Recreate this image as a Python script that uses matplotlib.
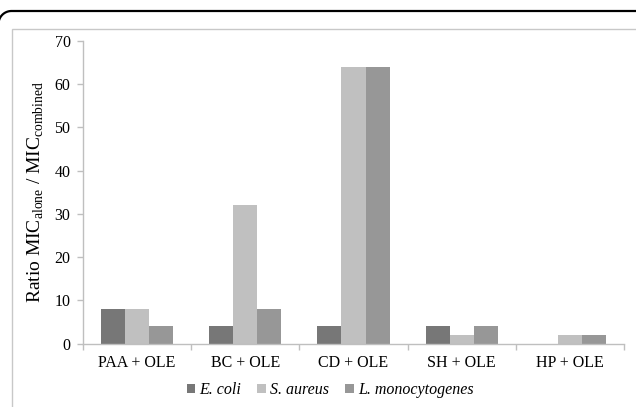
import matplotlib

matplotlib.use("Agg")
import matplotlib.pyplot as plt
import numpy as np
from matplotlib.lines import Line2D
from matplotlib.patches import Rectangle

plt.rcParams["font.family"] = ["Liberation Serif", "DejaVu Serif"]
plt.rcParams["mathtext.fontset"] = "custom"
plt.rcParams["mathtext.rm"] = "Liberation Serif"

# data
combos = ["PAA + OLE", "BC + OLE", "CD + OLE", "SH + OLE", "HP + OLE"]
e_coli = [8, 4, 4, 4, 0]
s_aureus = [8, 32, 64, 2, 2]
l_mono = [4, 8, 64, 4, 2]
series = ["E. coli", "S. aureus", "L. monocytogenes"]
colors = ["#777777", "#c0c0c0", "#979797"]

W, H = 636, 407
fig = plt.figure(figsize=(W / 100, H / 100), dpi=100)

# outer frame: only its rounded top-left corner and top edge show
r, top, left = 13, 11, -1.5
t = np.linspace(np.pi, np.pi / 2, 30)
px = np.r_[left, left + r + r * np.cos(t), W + 5]
py = np.r_[H + 5, top + r - r * np.sin(t), top]
fig.add_artist(Line2D(px / W, 1 - py / H, transform=fig.transFigure,
                      color="black", lw=1.6))
# inner grey box
fig.patches.append(Rectangle((12 / W, -0.1), 1.2, 1 - 29 / H + 0.1,
                             transform=fig.transFigure, fill=False,
                             ec="#c8c8c8", lw=1.0))

ax = fig.add_axes([83 / W, 1 - 343.5 / H, (624 - 83) / W, (343.5 - 41) / H])
x = np.arange(len(combos))
w = 0.222
for i, (vals, lab, c) in enumerate(zip([e_coli, s_aureus, l_mono], series, colors)):
    ax.bar(x + (i - 1) * w, vals, width=w, color=c, label=lab, linewidth=0)

ax.set_xlim(-0.5, len(combos) - 0.5)
ax.set_ylim(0, 70)
ax.set_yticks(range(0, 71, 10))
ax.set_xticks(x)
ax.set_xticklabels(combos, fontsize=11.5)
ax.tick_params(axis="x", length=0, pad=8)
ax.set_xticks(np.arange(-0.5, len(combos)), minor=True)
ax.tick_params(axis="x", which="minor", length=4, color="#bfbfbf", width=1)
ax.tick_params(axis="y", length=4, color="#bfbfbf", width=1, labelsize=11.5, pad=5)
for s in ["top", "right"]:
    ax.spines[s].set_visible(False)
for s in ["left", "bottom"]:
    ax.spines[s].set_color("#bfbfbf")
    ax.spines[s].set_linewidth(1)

ax.set_ylabel(r"Ratio MIC$_{\mathregular{alone}}$ / MIC$_{\mathregular{combined}}$",
              fontsize=14, labelpad=6)

leg = fig.legend(loc="center", bbox_to_anchor=(330 / W, 1 - 390 / H), ncol=3,
                 frameon=False, fontsize=11.5, handlelength=0.55, handleheight=0.55,
                 handletextpad=0.25, columnspacing=1.0)
for txt in leg.get_texts():
    txt.set_fontstyle("italic")

fig.savefig("out.png", dpi=100)
